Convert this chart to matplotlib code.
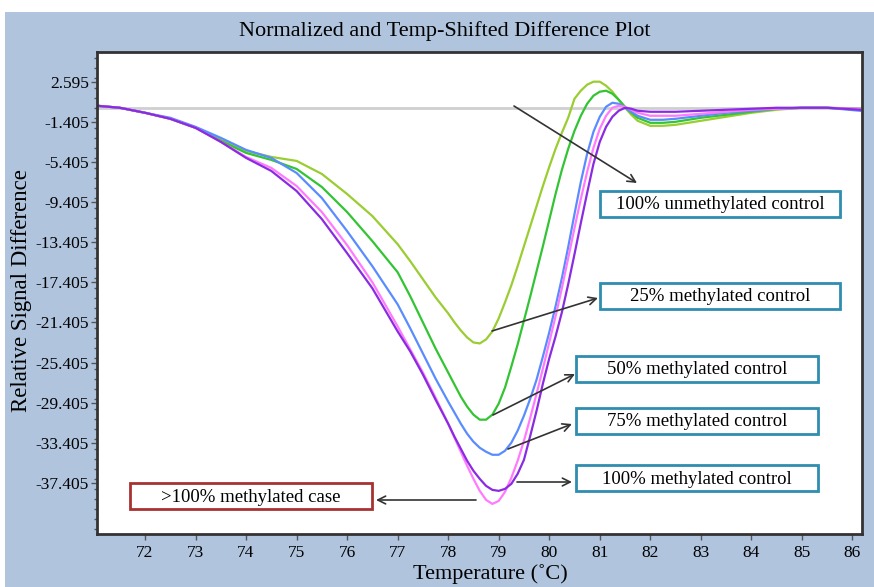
import matplotlib
matplotlib.use("Agg")
import matplotlib.pyplot as plt
from matplotlib.patches import Rectangle
from matplotlib.transforms import Affine2D

# ---------------- data ----------------
temps = [71.05, 71.5, 72, 72.5, 73, 73.5, 74, 74.5, 75, 75.5, 76, 76.5, 77, 77.25, 77.5, 77.75,
         78, 78.125, 78.25, 78.375, 78.5, 78.625, 78.75, 78.875, 79, 79.125, 79.25, 79.375,
         79.5, 79.625, 79.75, 79.875, 80, 80.125, 80.25, 80.375, 80.5, 80.625, 80.75, 80.875,
         81, 81.125, 81.25, 81.375, 81.5, 81.625, 81.75,
         82, 82.25, 82.5, 83, 83.5, 84, 84.5, 85, 85.5, 86.15]

unmethylated = [0.2, 0.0, -0.5, -1.1, -2.0, -3.2, -4.3, -4.9, -5.3, -6.6, -8.6, -10.8, -13.6, -15.3, -17.1, -18.9,
                -20.5, -21.4, -22.2, -22.9, -23.4, -23.5, -23.1, -22.3, -21.0, -19.4, -17.7, -15.8,
                -13.8, -11.8, -9.8, -7.8, -5.9, -4.1, -2.5, -1.0, 0.9, 1.7, 2.3, 2.6,
                2.6, 2.2, 1.6, 0.8, 0.0, -0.7, -1.3,
                -1.8, -1.8, -1.7, -1.3, -0.9, -0.5, -0.2, 0.0, 0.0, -0.2]

meth25 = [0.2, 0.0, -0.5, -1.1, -2.0, -3.3, -4.5, -5.2, -6.1, -7.9, -10.4, -13.3, -16.4, -18.8, -21.4, -24.0,
          -26.4, -27.6, -28.8, -29.8, -30.6, -31.1, -31.1, -30.6, -29.5, -27.9, -25.8, -23.6,
          -21.2, -18.8, -16.3, -13.8, -11.2, -8.6, -6.2, -4.1, -2.3, -0.8, 0.4, 1.2,
          1.6, 1.7, 1.4, 0.8, 0.1, -0.5, -1.0,
          -1.5, -1.5, -1.4, -1.0, -0.7, -0.4, -0.1, 0.0, 0.0, -0.1]

meth50 = [0.2, 0.0, -0.5, -1.0, -1.9, -3.0, -4.2, -5.0, -6.5, -9.0, -12.3, -15.8, -19.6, -22.0, -24.5, -27.0,
          -29.3, -30.4, -31.5, -32.5, -33.3, -33.9, -34.3, -34.6, -34.6, -34.2, -33.4, -32.2,
          -30.7, -29.0, -27.1, -24.8, -22.4, -19.8, -17.0, -13.9, -10.6, -7.4, -4.6, -2.4,
          -0.9, 0.1, 0.5, 0.4, 0.0, -0.4, -0.8,
          -1.2, -1.2, -1.1, -0.8, -0.5, -0.3, -0.1, 0.0, 0.0, -0.3]

meth75 = [0.2, 0.0, -0.5, -1.1, -2.0, -3.4, -5.0, -6.3, -8.3, -11.1, -14.5, -18.0, -22.3, -24.3, -26.6, -29.1,
          -31.5, -32.8, -34.0, -35.2, -36.2, -37.0, -37.7, -38.1, -38.2, -38.0, -37.5, -36.5,
          -35.1, -32.7, -30.2, -27.5, -25.0, -22.8, -20.4, -17.6, -14.6, -11.5, -8.5, -5.6,
          -3.4, -1.9, -0.9, -0.3, 0.0, -0.1, -0.3,
          -0.4, -0.4, -0.4, -0.3, -0.2, -0.1, 0.0, 0.0, 0.0, -0.2]

meth100 = [0.2, 0.0, -0.5, -1.1, -2.0, -3.4, -4.9, -6.0, -7.8, -10.4, -13.7, -17.4, -21.8, -24.1, -26.4, -28.9,
           -31.5, -32.9, -34.3, -35.7, -37.0, -38.2, -39.1, -39.5, -39.2, -38.3, -36.9, -35.2,
           -33.2, -30.9, -28.5, -26.0, -23.4, -20.8, -18.0, -15.0, -12.0, -9.1, -6.4, -4.0,
           -2.1, -0.8, 0.0, 0.2, 0.1, -0.2, -0.5,
           -0.8, -0.8, -0.8, -0.6, -0.4, -0.2, -0.1, 0.0, 0.0, -0.1]

series = [
    ("100% unmethylated control", unmethylated, "#9ACD32"),
    ("25% methylated control", meth25, "#33C433"),
    ("50% methylated control", meth50, "#5A8CFF"),
    (">100% methylated case", meth100, "#FF7AFF"),
    ("100% methylated control", meth75, "#8A2BE2"),
]

xticks = [72, 73, 74, 75, 76, 77, 78, 79, 80, 81, 82, 83, 84, 85, 86]
yticks = [2.595, -1.405, -5.405, -9.405, -13.405, -17.405, -21.405,
          -25.405, -29.405, -33.405, -37.405]
ytick_labels = ["2.595", "-1.405", "-5.405", "-9.405", "-13.405", "-17.405", "-21.405",
                "-25.405", "-29.405", "-33.405", "-37.405"]

# ---------------- figure ----------------
W, H = 874, 587
plt.rcParams['font.family'] = ['Liberation Serif', 'DejaVu Serif']
fig = plt.figure(figsize=(W / 100, H / 100), dpi=100, facecolor="white")
bg = Rectangle((5 / W, 0), 1, 1 - 12 / H, transform=fig.transFigure,
               facecolor="#B0C4DE", edgecolor="none", zorder=-10)
fig.patches.append(bg)

L, R, T, B = 97, 862, 52, 534
ax = fig.add_axes([L / W, 1 - B / H, (R - L) / W, (B - T) / H])
ax.set_facecolor("white")
ax.set_xlim(71.05, 86.19)
ax.set_ylim(-42.5, 5.56)

ax.axhline(0, color="#cfcfcf", lw=2, zorder=1)
for name, vals, col in series:
    ax.plot(temps, vals, color=col, lw=1.6, zorder=2)

ax.set_xticks(xticks)
ax.set_xticklabels([str(t) for t in xticks])
ax.set_yticks(yticks)
ax.set_yticklabels(ytick_labels)
ax.set_yticks([v for v in range(-42, 6)], minor=True)
ax.tick_params(axis="both", which="major", labelsize=12.5, length=4, width=1,
               color="#555555")
ax.tick_params(axis="y", which="major", pad=2)
ax.tick_params(axis="x", which="major", pad=4)
ax.tick_params(axis="y", which="minor", length=2.5, width=1, color="#555555")
for s in ax.spines.values():
    s.set_color("#333333")
    s.set_linewidth(2)

fig.text(445 / W, 1 - 31 / H, "Normalized and Temp-Shifted Difference Plot",
         ha="center", va="center", fontsize=16)
fig.text(22 / W, 1 - 291 / H, "Relative Signal Difference", rotation=90,
         ha="center", va="center", fontsize=16.5)
fig.text(490 / W, 1 - 574 / H, "Temperature (˚C)", ha="center", va="center", fontsize=16)

# pixel -> figure transform
pix = Affine2D().scale(1 / W, -1 / H).translate(0, 1) + fig.transFigure

boxes = [
    ("100% unmethylated control", 600, 191, 240, 26, "#2F8DB0"),
    ("25% methylated control", 600, 283, 240, 26, "#2F8DB0"),
    ("50% methylated control", 576, 356, 242, 26, "#2F8DB0"),
    ("75% methylated control", 576, 408, 242, 26, "#2F8DB0"),
    ("100% methylated control", 576, 465, 242, 26, "#2F8DB0"),
    (">100% methylated case", 130, 483, 242, 26, "#A83232"),
]
for text, x0, y0, w, h, ec in boxes:
    fig.patches.append(Rectangle((x0, y0 + h), w, -h, transform=pix, facecolor="white",
                                 edgecolor=ec, lw=2, zorder=5))
    fig.text((x0 + w / 2) / W, 1 - (y0 + h / 2 + 1) / H, text, ha="center", va="center",
             fontsize=13.5, zorder=6)

arrows = [
    ((514, 106), (637, 183)),
    ((492, 331), (598, 298)),
    ((493, 415), (575, 374)),
    ((508, 449), (572, 424)),
    ((517, 482), (572, 482)),
    ((476, 500), (376, 500)),
]
for (x1, y1), (x2, y2) in arrows:
    ax.annotate("", xy=(x2 / W, 1 - y2 / H), xycoords="figure fraction",
                xytext=(x1 / W, 1 - y1 / H), textcoords="figure fraction",
                arrowprops=dict(arrowstyle="->", color="#333333", lw=1.2,
                                shrinkA=0, shrinkB=0, mutation_scale=14),
                annotation_clip=False, zorder=7)

fig.savefig("out.png", dpi=100, facecolor="white")
